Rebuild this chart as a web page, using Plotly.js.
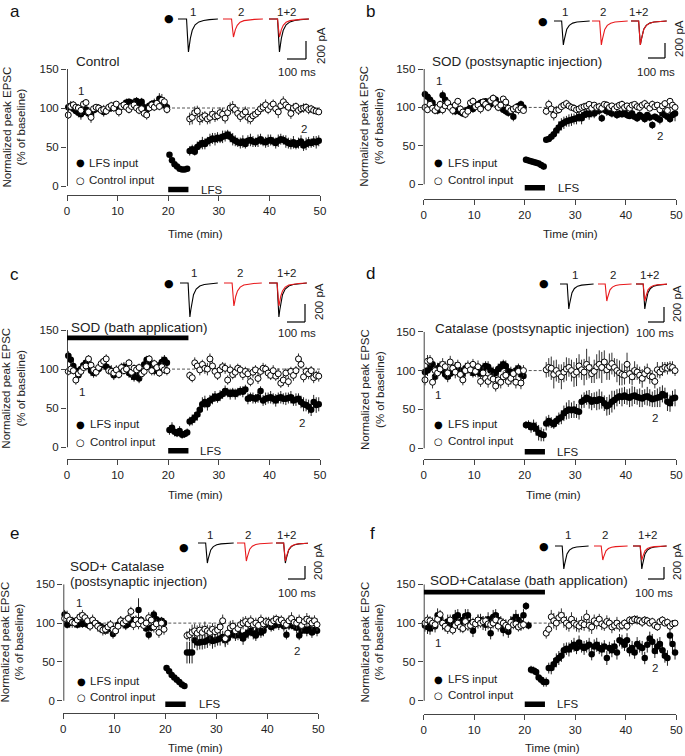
<!DOCTYPE html>
<html><head><meta charset="utf-8">
<script src="https://cdn.plot.ly/plotly-3.0.1.min.js"></script>
<style>html,body{margin:0;padding:0;background:#fff}#chart{width:685px;height:756px}</style>
</head><body><div id="chart"></div>
<script>
// ---------- DATA ----------
const timeMin = [
0.25,0.75,1.25,1.75,2.25,2.75,3.25,3.75,4.25,4.75,
5.25,5.75,6.25,6.75,7.25,7.75,8.25,8.75,9.25,9.75,
10.25,10.75,11.25,11.75,12.25,12.75,13.25,13.75,14.25,14.75,
15.25,15.75,16.25,16.75,17.25,17.75,18.25,18.75,19.25,19.75,
20.25,20.75,21.25,21.75,22.25,22.75,23.25,23.75,
24.25,24.75,25.25,25.75,26.25,26.75,27.25,27.75,28.25,28.75,
29.25,29.75,30.25,30.75,31.25,31.75,32.25,32.75,33.25,33.75,
34.25,34.75,35.25,35.75,36.25,36.75,37.25,37.75,38.25,38.75,
39.25,39.75,40.25,40.75,41.25,41.75,42.25,42.75,43.25,43.75,
44.25,44.75,45.25,45.75,46.25,46.75,47.25,47.75,48.25,48.75,
49.25,49.75];

const _ = null;
// Panel a (Control)
const lfsA = [101,103,99,96,94,92,95,98,93,91, 97,99,100,98,95,97,99,100,103,101, 99,102,104,107,108,106,107,109,106,108, 101,98,103,105,106,104,112,108,104,101,
 40,33,28,25,22,21,21,22,
 45,47,44,50,53,55,54,57,59,61, 60,62,61,63,64,66,63,60,58,56, 55,57,54,58,59,57,56,58,60,57, 56,58,59,57,55,58,60,59,57,55, 54,56,53,55,57,52,54,56,55,57, 56,58];
const lfsAErr = [5,6,5,4,6,7,5,4,5,6, 4,5,5,4,6,5,4,5,5,6, 5,4,6,5,4,5,6,5,4,5, 6,5,4,5,6,5,7,6,5,5,
 3,3,2,2,2,2,2,2,
 6,6,5,7,6,8,7,6,8,7, 8,7,6,8,7,6,7,8,7,6, 7,8,6,7,8,7,6,8,7,6, 7,8,7,6,7,8,7,6,8,7, 7,8,6,7,8,7,8,7,6,7, 8,7];
const ctrlA = [91,102,104,101,100,97,105,107,95,88, 99,101,100,97,98,96,101,103,100,105, 95,102,104,101,98,102,104,100,97,99, 93,91,100,104,101,106,102,110,108,98,
 _,_,_,_,_,_,_,_,
 86,88,94,96,86,88,90,86,88,92, 89,90,94,92,87,94,100,101,98,93, 89,92,95,88,86,90,92,95,99,101, 104,98,102,105,99,95,103,108,104,101, 93,100,102,97,99,100,101,98,99,97, 96,95];
const ctrlAErr = [5,4,5,4,5,6,5,4,5,7, 5,4,5,4,6,5,4,5,5,4, 6,5,4,5,5,4,6,5,5,4, 5,6,5,4,5,6,5,8,6,5,
 0,0,0,0,0,0,0,0,
 8,9,8,7,8,7,6,7,8,7, 7,6,7,8,7,6,7,8,7,6, 7,6,7,8,7,6,5,6,7,6, 7,6,5,6,7,8,6,7,6,5, 7,6,5,6,5,6,5,6,5,5, 4,4];

// Panel b (SOD postsynaptic)
const lfsB = [117,114,110,106,100,96,98,116,110,104, 101,98,95,97,94,92,95,97,100,98, 102,104,106,103,108,105,104,107,110,104, 100,97,95,93,95,88,98,102,104,100,
 32,31,30,29,28,27,25,23,
 58,59,62,65,70,74,78,80,82,83, 84,85,86,88,86,90,92,91,93,92, 95,96,86,97,95,94,92,93,90,92, 91,93,90,89,92,88,86,90,88,85, 90,87,77,88,86,84,92,90,88,85, 90,92];
const lfsBErr = [5,5,6,5,4,5,5,6,5,5, 4,5,5,4,5,4,5,5,4,5, 5,4,5,5,4,5,4,5,5,4, 5,4,5,5,4,6,5,4,5,5,
 4,4,4,4,4,4,4,4,
 3,4,5,6,7,8,8,8,7,8, 8,7,8,7,8,7,6,7,6,6, 5,6,5,5,6,5,5,4,5,5, 4,5,5,4,5,4,5,5,4,5, 4,5,5,4,5,6,5,4,5,5, 5,10];
const ctrlB = [100,97,104,99,96,100,104,97,102,106, 100,96,103,108,98,94,91,95,106,108, 101,103,98,107,104,100,109,112,105,100, 103,111,107,99,96,98,100,97,99,96,
 _,_,_,_,_,_,_,_,
 95,104,98,90,96,97,101,103,105,102, 100,99,97,98,100,101,102,104,99,103, 100,101,99,104,103,100,102,98,101,103, 104,100,102,99,103,104,101,100,103,105, 102,99,104,101,103,97,102,105,96,108, 103,100];
const ctrlBErr = [5,4,5,6,5,4,5,6,5,4, 5,6,5,4,5,6,5,4,5,5, 4,5,6,5,4,5,6,5,4,5, 5,4,5,6,5,4,5,6,5,4,
 0,0,0,0,0,0,0,0,
 5,6,8,7,6,5,5,4,5,4, 4,5,4,5,4,5,4,4,5,4, 4,5,4,4,5,4,4,5,4,4, 5,4,4,5,4,4,5,4,4,5, 4,4,5,4,4,5,4,4,5,4, 4,4];

// Panel c (SOD bath)
const lfsC = [117,112,104,98,92,100,105,108,104,98, 95,97,100,105,108,103,100,98,92,95, 97,100,103,99,95,93,90,92,88,95, 106,112,110,104,98,100,105,109,112,108,
 22,25,20,18,21,16,17,19,
 33,35,38,42,48,55,58,55,60,62, 65,63,66,68,72,70,68,70,68,70, 72,71,74,62,64,63,62,64,72,60, 62,63,64,62,60,63,64,62,62,63, 64,60,61,62,58,55,54,52,48,58, 54,55];
const lfsCErr = [6,7,6,5,6,7,6,5,6,7, 6,5,6,7,6,5,6,7,6,5, 6,7,6,5,6,7,6,5,6,7, 6,5,6,7,6,5,6,7,6,5,
 6,7,6,5,6,5,5,5,
 6,7,7,8,9,9,8,8,7,7, 7,6,7,6,7,6,7,6,7,6, 6,7,6,7,6,7,6,7,6,7, 8,7,8,7,8,7,8,7,8,7, 8,7,8,7,8,9,8,9,8,9, 10,9];
const ctrlC = [97,100,98,86,94,97,102,104,113,105, 99,96,102,107,110,113,98,97,95,99, 93,102,98,100,108,96,101,99,102,94, 97,103,113,98,107,102,95,103,99,98,
 _,_,_,_,_,_,_,_,
 92,89,108,104,99,106,101,100,113,104, 97,92,99,103,101,86,99,93,96,101, 99,93,97,94,84,96,99,88,97,101, 100,95,92,98,91,94,82,86,95,84, 97,92,98,113,106,90,97,94,98,89, 92,91];
const ctrlCErr = [5,6,5,6,5,6,5,6,5,6, 5,6,5,6,5,6,5,6,5,6, 5,6,5,6,5,6,5,6,5,6, 5,6,5,6,5,6,5,6,5,6,
 0,0,0,0,0,0,0,0,
 5,6,7,6,7,6,7,8,7,6, 7,6,7,6,7,6,7,6,7,6, 6,7,6,7,6,7,6,7,6,7, 6,7,6,7,6,7,6,7,6,7, 6,7,6,7,6,7,6,7,6,7, 6,7];

// Panel d (Catalase postsynaptic)
const lfsD = [98,100,104,108,92,103,106,100,95,92, 96,99,104,98,100,96,103,102,101,97, 100,98,96,103,106,105,100,98,97,102, 105,108,106,99,98,96,100,103,95,93,
 30,30,27,29,25,20,18,17,
 32,35,33,31,35,38,40,45,48,50, 49,50,48,47,60,62,65,63,60,62, 61,63,62,58,54,56,60,62,65,67, 66,68,66,65,67,68,66,65,64,66, 67,65,63,64,65,66,70,68,60,58, 64,65];
const lfsDErr = [6,7,6,7,6,7,6,7,6,7, 7,6,7,6,7,6,7,6,7,6, 6,7,6,7,6,7,6,7,6,7, 7,6,7,6,7,6,7,6,7,6,
 5,6,7,8,9,10,9,8,
 9,8,7,6,7,8,9,10,11,12, 10,11,9,10,9,10,9,12,11,10, 12,13,11,10,12,13,14,12,11,10, 12,11,10,12,13,11,10,12,11,10, 12,11,10,11,12,13,11,10,12,11, 10,11];
const ctrlD = [88,112,113,85,100,97,102,108,105,97, 111,103,98,107,95,88,100,106,101,108, 99,105,86,97,90,86,91,89,80,88, 85,92,94,86,90,96,85,99,84,100,
 _,_,_,_,_,_,_,_,
 101,104,103,95,100,96,92,98,102,104, 100,95,98,106,101,98,108,104,96,99, 105,108,104,111,101,105,109,104,100,97, 95,94,108,96,92,100,98,94,90,96, 100,93,92,86,101,98,102,104,103,105, 104,100];
const ctrlDErr = [7,8,7,8,7,8,7,8,7,8, 8,7,8,7,8,7,8,7,8,7, 7,8,7,8,7,8,7,8,7,8, 8,7,8,7,8,7,8,7,8,7,
 0,0,0,0,0,0,0,0,
 10,12,15,18,14,12,16,13,15,12, 14,16,18,15,13,17,20,14,12,15, 16,18,20,15,13,17,14,12,15,16, 14,12,15,13,11,12,10,11,12,10, 9,10,8,9,10,8,9,7,8,7, 8,7];

// Panel e (SOD + Catalase postsynaptic)
const lfsE = [111,98,100,103,101,98,100,99,101,98, 97,103,100,98,96,94,90,92,95,86, 90,98,103,100,97,99,101,104,102,117, 104,100,93,85,94,111,105,101,103,100,
 42,38,33,30,27,24,21,19,
 62,62,62,78,75,75,76,76,78,80, 77,78,79,80,82,78,80,85,88,84, 86,84,80,85,88,90,87,84,91,88, 90,98,100,95,97,99,98,100,96,85, 97,99,96,94,84,90,92,90,92,88, 91,90];
const lfsEErr = [6,5,6,5,6,5,6,5,6,5, 5,6,5,6,5,6,5,6,5,6, 6,5,6,5,6,5,6,5,6,15, 5,6,5,6,5,6,5,6,5,6,
 3,3,2,2,2,2,2,2,
 14,14,14,10,10,9,10,9,10,9, 10,9,8,9,8,9,8,7,8,7, 8,7,8,7,8,7,8,7,8,7, 7,8,7,6,7,6,7,6,7,6, 6,7,6,7,6,7,6,7,6,7, 6,7];
const ctrlE = [106,109,104,101,100,104,108,110,107,103, 96,104,100,96,93,91,92,95,98,92, 90,96,103,100,103,106,115,98,104,99, 103,97,100,107,104,95,99,88,100,92,
 _,_,_,_,_,_,_,_,
 84,85,88,90,87,91,88,92,90,88, 92,89,91,95,103,80,87,94,96,90, 93,98,100,102,99,103,98,100,97,104, 99,102,101,100,103,105,102,104,100,98, 103,106,101,100,104,97,102,105,103,100, 103,98];
const ctrlEErr = [6,7,6,7,6,7,6,7,6,7, 6,7,6,7,6,7,6,7,6,7, 6,7,6,7,6,7,6,7,6,7, 6,7,6,7,6,7,6,7,6,7,
 0,0,0,0,0,0,0,0,
 6,8,10,9,10,8,9,10,8,9, 8,9,8,9,8,9,8,9,8,9, 8,7,8,7,8,7,8,7,8,7, 7,6,7,6,7,6,7,6,7,6, 7,8,7,8,7,8,7,8,7,8, 7,8];

// Panel f (SOD + Catalase bath)
const lfsF = [97,95,93,98,96,110,106,100,97,102, 99,103,108,110,101,104,109,110,100,90, 99,102,104,100,98,105,87,108,110,104, 99,91,96,89,100,104,108,104,100,110,
 122,97,40,39,37,30,27,24,
 24,42,42,47,52,55,58,65,67,66, 70,72,68,75,70,68,70,72,60,70, 72,68,66,70,55,68,65,70,62,78, 76,72,78,65,68,62,73,70,68,55, 72,80,76,64,70,73,65,58,55,84, 73,62];
const lfsFErr = [8,9,8,9,8,9,8,9,8,9, 9,8,9,8,9,8,9,8,9,8, 8,9,8,9,8,9,8,9,8,9, 9,8,9,8,9,8,9,8,9,8,
 5,5,5,5,5,5,5,6,
 6,7,8,8,9,9,8,9,8,9, 8,9,8,9,8,9,8,9,8,9, 9,8,9,8,9,8,9,8,9,8, 9,8,9,8,9,8,9,8,9,8, 10,9,10,9,10,9,10,9,10,9, 10,9];
const ctrlF = [100,104,103,100,98,105,111,100,96,93, 104,91,97,100,95,93,102,96,97,101, 99,104,100,102,103,99,98,100,104,96, 102,100,97,95,101,98,99,95,97,98,
 _,_,_,_,_,_,_,_,
 87,92,108,103,100,107,110,104,100,97, 105,100,98,96,100,98,108,97,95,103, 100,105,99,97,102,100,95,97,100,96, 97,100,96,104,103,105,104,103,101,104, 103,100,102,97,95,102,104,100,101,96, 99,100];
const ctrlFErr = [6,7,6,7,6,7,6,7,6,7, 7,6,7,6,7,6,7,6,7,6, 6,7,6,7,6,7,6,7,6,7, 7,6,7,6,7,6,7,6,7,6,
 0,0,0,0,0,0,0,0,
 7,8,9,10,9,8,9,10,9,8, 9,8,9,8,9,8,9,8,9,8, 8,7,8,7,8,7,8,7,8,7, 6,5,6,5,6,5,6,5,6,5, 5,4,5,4,5,4,5,4,5,4, 5,4];

// EPSC example traces (ms, pA)
const epscTimeMs = [0,45,50,55,60,65,75,90,110,135,165,210];
const epscA1 = [0,0,-190,-365,-290,-215,-125,-65,-32,-16,-7,0];
const epscA2 = [0,0,-105,-200,-160,-118,-70,-36,-18,-9,-4,0];
const epscB1 = [0,0,-165,-320,-255,-190,-110,-58,-28,-14,-6,0];
const epscB2 = [0,0,-165,-318,-255,-190,-112,-58,-29,-14,-6,0];
const epscC1 = [0,0,-195,-378,-300,-222,-130,-68,-33,-17,-7,0];
const epscC2 = [0,0,-130,-255,-205,-150,-88,-46,-22,-11,-5,0];
const epscD1 = [0,0,-170,-333,-265,-195,-115,-60,-29,-15,-6,0];
const epscD2 = [0,0,-115,-227,-180,-133,-78,-41,-20,-10,-4,0];
const epscE1 = [0,0,-160,-308,-245,-180,-106,-55,-27,-14,-6,0];
const epscE2 = [0,0,-140,-277,-220,-162,-95,-50,-24,-12,-5,0];
const epscF1 = [0,0,-195,-383,-305,-225,-132,-69,-34,-17,-7,0];
const epscF2 = [0,0,-120,-233,-185,-137,-80,-42,-20,-10,-4,0];

const xTicks = [0,10,20,30,40,50];
const yTicks = [0,50,100,150];
const panelLetters = ['a','b','c','d','e','f'];
const conditionLabels = [['Control'],['SOD (postsynaptic injection)'],['SOD (bath application)'],
  ['Catalase (postsynaptic injection)'],['SOD+ Catalase','(postsynaptic injection)'],['SOD+Catalase (bath application)']];
const seriesNames = ['LFS input','Control input'];
const traceLabels = ['1','2','1+2'];
const lfsPeriod = [20,24];      // min
const drugPeriod = [0,24];      // min (bath application panels)

// ---------- LAYOUT GEOMETRY (pixels) ----------
const W = 685, H = 756;
const px = x => x / W, py = y => 1 - y / H;
const FONT = 'Liberation Sans, Arial, sans-serif';
const AX = '#444';

const geom = [
 {x0:67,x50:320,y150:69,y0:186,axis:195, letter:[15,12], titles:[[74,62]], ytX:14, xt:[195,234], legX:80, legTX:87, legY:[163,180], lab1:[81,91], lab2:[304,129], lfsTX:199, drug:false,
  ins:{dot:[169,19], t:[178,223,269], base:19, msPx:100/19, pAPx:200/18, corner:[306,59], lblY:12, lblX:[193,241,287], pA:[321,46], ms:[297,72]}},
 {x0:423.7,x50:676.3,y150:69,y0:184.3,axis:199, letter:[370,12], titles:[[430,62]], ytX:372, xt:[570,234], legX:439, legTX:446, legY:[163,180], lab1:[439,81], lab2:[660,136], lfsTX:556, drug:false,
  ins:{dot:[543,22], t:[554,592,631], base:21, msPx:100/17, pAPx:200/15, corner:[665,58], lblY:12, lblX:[565,603,639], pA:[679,39], ms:[656,72]}},
 {x0:67,x50:320,y150:330,y0:447.3,axis:458.7, letter:[14,274], titles:[[69,327]], ytX:14, xt:[195,495], legX:80, legTX:88, legY:[424,442], lab1:[82,392], lab2:[302,423], lfsTX:198, drug:true,
  ins:{dot:[169,283], t:[180,224,269], base:283, msPx:100/18, pAPx:200/18, corner:[305,322], lblY:273, lblX:[194,240,287], pA:[319,302], ms:[297,333]}},
 {x0:423.7,x50:676.3,y150:331.7,y0:448.3,axis:459.3, letter:[370,273], titles:[[433,329]], ytX:372, xt:[553,495], legX:439, legTX:446, legY:[424,441], lab1:[438,395], lab2:[655,418], lfsTX:555, drug:false,
  ins:{dot:[544,284], t:[560,598,636], base:284, msPx:100/16, pAPx:200/15, corner:[664,322], lblY:275, lblX:[575,613,650], pA:[677,304], ms:[655,333]}},
 {x0:63.3,x50:318.3,y150:584.3,y0:700.7,axis:712.7, letter:[14,533], titles:[[68,566],[68,581]], ytX:12, xt:[195,748], legX:81, legTX:88, legY:[681,697], lab1:[79,603], lab2:[297,651], lfsTX:197, drug:false,
  ins:{dot:[184,547], t:[198,237,276], base:543, msPx:100/17, pAPx:200/13, corner:[305,579], lblY:535, lblX:[210,248,287], pA:[318,562], ms:[297,593]}},
 {x0:423.7,x50:676.3,y150:584.3,y0:700.7,axis:714.3, letter:[372,533], titles:[[428,580]], ytX:372, xt:[552,748], legX:439, legTX:446, legY:[679,695], lab1:[438,643], lab2:[655,668], lfsTX:555, drug:true,
  ins:{dot:[544,546], t:[555,594,633], base:546, msPx:100/16, pAPx:200/12, corner:[664,579], lblY:535, lblX:[568,605,648], pA:[677,562], ms:[654,593]}}
];

const series = [
 [lfsA,lfsAErr,ctrlA,ctrlAErr,epscA1,epscA2],
 [lfsB,lfsBErr,ctrlB,ctrlBErr,epscB1,epscB2],
 [lfsC,lfsCErr,ctrlC,ctrlCErr,epscC1,epscC2],
 [lfsD,lfsDErr,ctrlD,ctrlDErr,epscD1,epscD2],
 [lfsE,lfsEErr,ctrlE,ctrlEErr,epscE1,epscE2],
 [lfsF,lfsFErr,ctrlF,ctrlFErr,epscF1,epscF2]
];
series.forEach((s,i)=>{ [0,1,2,3].forEach(k=>{ if (s[k].length !== timeMin.length) throw new Error('length mismatch panel '+i+' series '+k+': '+s[k].length); }); });

const data = [], shapes = [], annotations = [];
const layout = {
  width: W, height: H, margin:{l:0,r:0,t:0,b:0}, showlegend:false,
  paper_bgcolor:'#fff', plot_bgcolor:'rgba(0,0,0,0)', font:{family:FONT, color:'#222', size:11.5}
};
const ann = (text, x, y, opt={}) => annotations.push(Object.assign({text, x:px(x), y:py(y), xref:'paper', yref:'paper', showarrow:false, xanchor:'center', yanchor:'middle', font:{family:FONT, size:11.5, color:'#222'}}, opt));

geom.forEach((g,i)=>{
  const n = i+1, s = n===1?'':String(n);
  const xa = 'x'+s, ya = 'y'+s;
  const [lfs,lfsErr,ctrl,ctrlErr,e1,e2] = series[i];
  const yPerUnit = (g.y0 - g.y150)/150;
  const yMin = -(g.axis - g.y0)/yPerUnit;
  layout['xaxis'+s] = {domain:[px(g.x0),px(g.x50)], range:[0,50], anchor:ya, tickvals:xTicks, ticks:'outside', ticklen:5, tickcolor:AX,
    showline:true, linecolor:AX, linewidth:1, showgrid:false, zeroline:false, tickfont:{size:11.5, color:'#222'}, fixedrange:true};
  layout['yaxis'+s] = {domain:[py(g.axis),py(g.y150)], range:[yMin,150], anchor:xa, tickvals:yTicks, ticks:'outside', ticklen:5, tickcolor:AX,
    showline:false, showgrid:false, zeroline:false, tickfont:{size:11.5, color:'#222'}, fixedrange:true};
  // y axis line spanning 0..150 only
  shapes.push({type:'line', xref:xa, yref:ya, x0:0, x1:0, y0:0, y1:150, line:{color:AX, width:2}});
  // baseline dashed line
  shapes.push({type:'line', xref:xa, yref:ya, x0:0, x1:50, y0:100, y1:100, line:{color:'#555', width:1, dash:'3px,2px'}, layer:'below'});
  // LFS bar
  shapes.push({type:'rect', xref:xa, yref:ya, x0:lfsPeriod[0], x1:lfsPeriod[1], y0:-8, y1:-1, fillcolor:'#000', line:{width:0}});
  if (g.drug) shapes.push({type:'rect', xref:xa, yref:ya, x0:drugPeriod[0], x1:drugPeriod[1], y0:137, y1:143, fillcolor:'#000', line:{width:0}});

  data.push({type:'scatter', mode:'markers', name:seriesNames[0], x:timeMin, y:lfs, xaxis:xa, yaxis:ya, cliponaxis:false,
    marker:{size:6.5, color:'#000'}, error_y:{type:'data', array:lfsErr, visible:true, color:'#222', thickness:1, width:0}});
  data.push({type:'scatter', mode:'markers', name:seriesNames[1], x:timeMin, y:ctrl, xaxis:xa, yaxis:ya, cliponaxis:false,
    marker:{size:6, color:'#fff', line:{color:'#000', width:1}}, error_y:{type:'data', array:ctrlErr, visible:true, color:'#333', thickness:1, width:0}});

  // ---- inset EPSC traces ----
  const I = g.ins, m = n+6, ixa = 'x'+m, iya = 'y'+m;
  const leftPx = I.t[0]-4, rightPx = I.corner[0]+3, topPx = I.base-5, botPx = I.corner[1]+3;
  layout['xaxis'+m] = {domain:[px(leftPx),px(rightPx)], range:[(leftPx-I.t[0])*I.msPx,(rightPx-I.t[0])*I.msPx], anchor:iya, visible:false, fixedrange:true};
  layout['yaxis'+m] = {domain:[py(botPx),py(topPx)], range:[-(botPx-I.base)*I.pAPx,(I.base-topPx)*I.pAPx], anchor:ixa, visible:false, fixedrange:true};
  const off2 = (I.t[1]-I.t[0])*I.msPx, off3 = (I.t[2]-I.t[0])*I.msPx;
  const ln = (x,y,c)=>data.push({type:'scatter', mode:'lines', x, y, xaxis:ixa, yaxis:iya, line:{color:c, width:1.1}, hoverinfo:'skip'});
  ln(epscTimeMs, e1, '#000');
  ln(epscTimeMs.map(t=>t+off2), e2, '#e8191c');
  ln(epscTimeMs.map(t=>t+off3), e1, '#000');
  ln(epscTimeMs.map(t=>t+off3), e2, '#e8191c');
  const cx = (I.corner[0]-I.t[0])*I.msPx, cy = -(I.corner[1]-I.base)*I.pAPx;
  shapes.push({type:'line', xref:ixa, yref:iya, x0:cx-100, x1:cx, y0:cy, y1:cy, line:{color:'#000', width:1.2}});
  shapes.push({type:'line', xref:ixa, yref:iya, x0:cx, x1:cx, y0:cy, y1:cy+200, line:{color:'#000', width:1.2}});
  ann('●', I.dot[0], I.dot[1], {font:{family:'DejaVu Sans', size:11, color:'#000'}});
  traceLabels.forEach((t,k)=>ann(t, I.lblX[k], I.lblY, {font:{family:FONT, size:11.5, color:'#222'}}));
  ann('200 pA', I.pA[0], I.pA[1], {textangle:-90});
  ann('100 ms', I.ms[0], I.ms[1]);

  // ---- texts ----
  ann(panelLetters[i], g.letter[0], g.letter[1], {font:{family:FONT, size:17, color:'#111'}});
  conditionLabels[i].forEach((t,k)=>ann(t, g.titles[k][0], g.titles[k][1], {xanchor:'left', font:{family:FONT, size:13.5, color:'#222'}}));
  ann('Normalized peak EPSC<br>(% of baseline)', g.ytX, (g.y0+g.y150)/2, {textangle:-90, font:{family:FONT, size:11.5, color:'#222'}});
  ann('Time (min)', g.xt[0], g.xt[1]);
  ann('●', g.legX, g.legY[0], {font:{family:'DejaVu Sans', size:10, color:'#000'}});
  ann('○', g.legX, g.legY[1], {font:{family:'DejaVu Sans', size:10, color:'#000'}});
  ann(seriesNames[0], g.legTX, g.legY[0], {xanchor:'left'});
  ann(seriesNames[1], g.legTX, g.legY[1], {xanchor:'left'});
  ann('1', g.lab1[0], g.lab1[1]);
  ann('2', g.lab2[0], g.lab2[1]);
  const barCenterPx = g.y0 + 4.5*yPerUnit;
  ann('LFS', g.lfsTX, barCenterPx, {xanchor:'left'});
});

layout.shapes = shapes;
layout.annotations = annotations;
Plotly.newPlot('chart', data, layout, {staticPlot:true, displayModeBar:false});
</script>
</body></html>
